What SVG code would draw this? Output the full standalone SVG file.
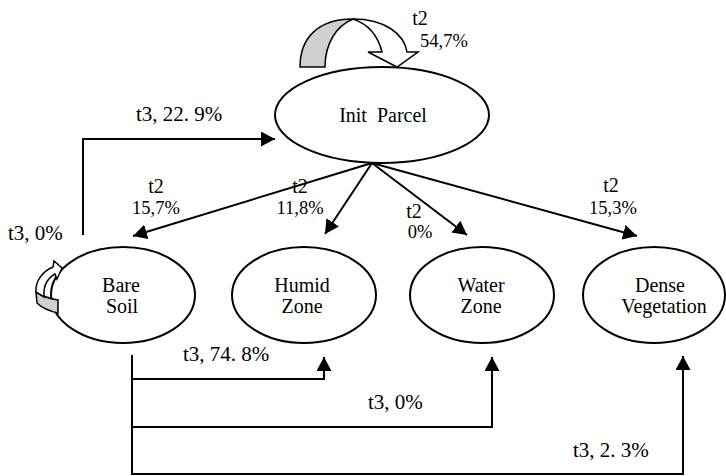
<svg xmlns="http://www.w3.org/2000/svg" width="726" height="476" viewBox="0 0 726 476" font-family="'Liberation Serif', 'Times New Roman', Times, 'DejaVu Serif', serif">
<style>
.node ellipse{fill:#fff;stroke:#000;stroke-width:2}
text{font-family:"Liberation Serif","Times New Roman",Times,"DejaVu Serif",serif;fill:#000}
.nt{font-size:20px;text-anchor:middle}
.lb{font-size:21px}
.t2{font-size:20px;text-anchor:middle}
.pc{font-size:18.5px;text-anchor:middle}
.conn path,.conn line{fill:none;stroke:#000;stroke-width:2}
.loop{stroke:#000;stroke-width:1.5;stroke-linejoin:miter}
</style>
<defs>
<marker id="ah" markerUnits="userSpaceOnUse" markerWidth="15" markerHeight="15" refX="14" refY="7.5" orient="auto"><path d="M0,0 L14,7.5 L0,15 Z" fill="#000"/></marker>
</defs>
<rect width="726" height="476" fill="#fff"/>
<g id="connectors" class="conn">
<line x1="372" y1="163" x2="133" y2="236" marker-end="url(#ah)"/>
<line x1="372" y1="163" x2="325" y2="234" marker-end="url(#ah)"/>
<line x1="372" y1="163" x2="467" y2="235" marker-end="url(#ah)"/>
<line x1="372" y1="163" x2="637" y2="236" marker-end="url(#ah)"/>
<path d="M83,235 V139 H275" marker-end="url(#ah)"/>
<path d="M132,355 V475"/>
<path d="M132,379 H324 V357" marker-end="url(#ah)"/>
<path d="M132,427 H492 V357" marker-end="url(#ah)"/>
<path d="M132,474 H683 V356" marker-end="url(#ah)"/>
</g>
<g id="init-parcel" class="node">
<ellipse cx="382" cy="115" rx="107" ry="48"/>
<text class="nt" x="383" y="122" font-size="21" xml:space="preserve">Init  Parcel</text>
</g>
<g id="bare-soil" class="node">
<ellipse cx="123" cy="295" rx="72" ry="48"/>
<text class="nt" x="121" y="292">Bare</text>
<text class="nt" x="122" y="313">Soil</text>
</g>
<g id="humid-zone" class="node">
<ellipse cx="304" cy="295" rx="72" ry="48"/>
<text class="nt" x="302" y="292">Humid</text>
<text class="nt" x="302" y="313">Zone</text>
</g>
<g id="water-zone" class="node">
<ellipse cx="482" cy="295" rx="72" ry="48"/>
<text class="nt" x="481" y="292">Water</text>
<text class="nt" x="481" y="313">Zone</text>
</g>
<g id="dense-vegetation" class="node">
<ellipse cx="654" cy="295" rx="71" ry="48"/>
<text class="nt" x="660" y="292">Dense</text>
<text class="nt" x="664" y="313">Vegetation</text>
</g>
<g id="loop-init">
<path class="loop" fill="#d0d0d0" d="M300,67 C300,38 318,19 353,19 C336,26 325,44 325,67 Z"/>
<path class="loop" fill="#fff" d="M353,19 C385,19 404,34 407,52 L418,52 L397,67 L368,52 L382,52 C378,36 368,24 353,19 Z"/>
</g>
<g id="loop-bare">
<path class="loop" fill="#d0d0d0" d="M36,292 C44,297 51,299 58,300 L58,313 C49,311 41,307 37,303 Z"/>
<path class="loop" fill="#fff" d="M36,292 C35,281 43,271 53,267 L54,261 L62,268 L57,279 L55,274 C48,278 43,285 44,297 Z"/>
</g>
<g id="labels">
<text class="t2" x="420" y="25">t2</text>
<text class="pc" x="444" y="47">54,7%</text>
<text class="t2" x="156" y="193">t2</text>
<text class="pc" x="156" y="214">15,7%</text>
<text class="t2" x="300" y="193">t2</text>
<text class="pc" x="300" y="214">11,8%</text>
<text class="t2" x="414" y="218">t2</text>
<text class="pc" x="420" y="238">0%</text>
<text class="t2" x="611" y="192">t2</text>
<text class="pc" x="613" y="214">15,3%</text>
<text class="lb" x="136" y="121">t3, 22. 9%</text>
<text class="lb" x="8" y="240">t3, 0%</text>
<text class="lb" x="183" y="361">t3, 74. 8%</text>
<text class="lb" x="368" y="409">t3, 0%</text>
<text class="lb" x="573" y="457">t3, 2. 3%</text>
</g>
</svg>
